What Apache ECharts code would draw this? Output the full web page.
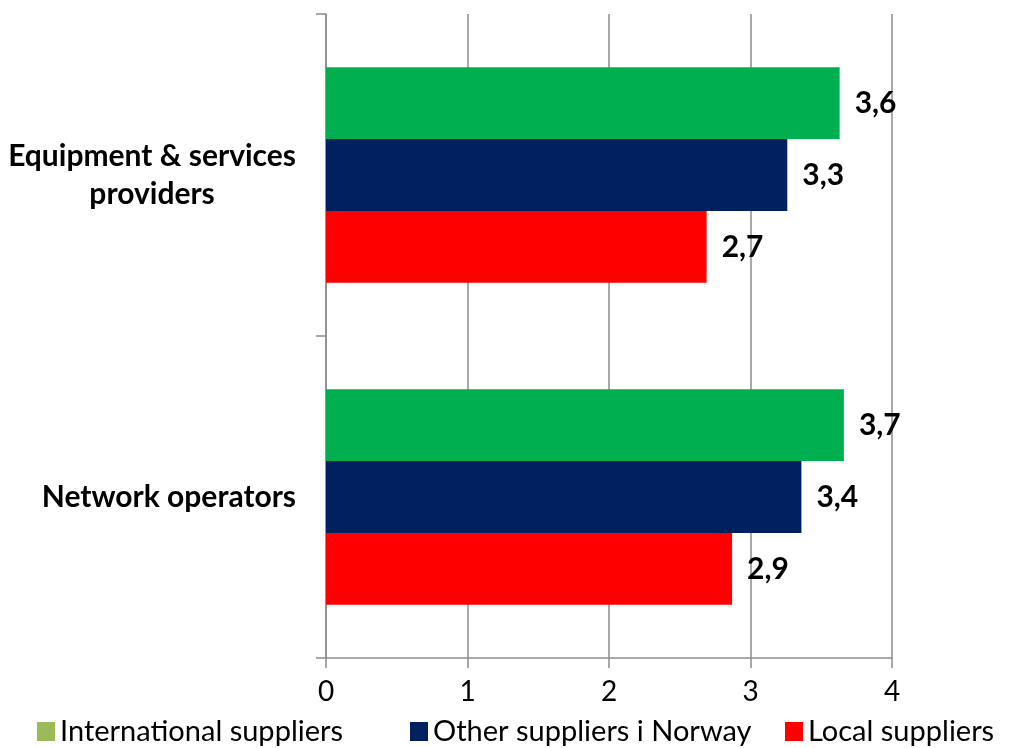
<!DOCTYPE html>
<html>
<head>
<meta charset="utf-8">
<script src="https://cdn.jsdelivr.net/npm/echarts@6/dist/echarts.min.js"></script>
<style>
  html, body { margin: 0; padding: 0; background: #fff; }
  #chart { width: 1025px; height: 748px; }
</style>
</head>
<body>
<div id="chart"></div>
<script>
// Categories (top to bottom) and series
const categories = ['Equipment & services\nproviders', 'Network operators'];
const seriesNames = ['International suppliers', 'Other suppliers i Norway', 'Local suppliers'];
const international = [3.63, 3.66];
const otherNorway = [3.26, 3.36];
const local = [2.69, 2.87];
const xTicks = [0, 1, 2, 3, 4];

const barColors = ['#00B050', '#002060', '#FF0000'];
const legendColors = ['#9BBB59', '#002060', '#FF0000'];
const FONT = 'Lato, "Open Sans", sans-serif';

const fmt = v => (Math.round(v * 10) / 10).toFixed(1).replace('.', ',');

function makeSeries(name, data, color) {
  return {
    name, type: 'bar', data,
    barGap: '0%', barCategoryGap: '33%',
    itemStyle: { color },
    label: {
      show: true, position: 'right', distance: 15,
      formatter: p => fmt(p.value),
      color: '#000', fontWeight: 'bold', fontSize: 30, fontFamily: FONT
    }
  };
}

const legendLefts = [32, 405, 780];
const legends = seriesNames.map((n, i) => ({
  data: [{ name: n, itemStyle: { color: legendColors[i] } }],
  left: legendLefts[i], top: 712,
  icon: 'rect', itemWidth: 18, itemHeight: 19, itemGap: 0,
  textStyle: { fontSize: 29, color: '#000', fontFamily: FONT, padding: [0, 0, 0, 0] },
  selectedMode: false
}));

const chart = echarts.init(document.getElementById('chart'));
chart.setOption({
  animation: false,
  backgroundColor: '#fff',
  legend: legends,
  grid: { left: 326, right: 133, top: 14, bottom: 90, containLabel: false },
  xAxis: {
    type: 'value', min: xTicks[0], max: xTicks[xTicks.length - 1], interval: 1,
    axisLine: { show: true, lineStyle: { color: '#8c8c8c', width: 1.5 } },
    axisTick: { show: true, length: 10, lineStyle: { color: '#8c8c8c', width: 1.5 } },
    splitLine: { show: true, lineStyle: { color: '#8c8c8c', width: 1.5 } },
    axisLabel: { fontSize: 28, color: '#000', fontFamily: FONT, margin: 20 }
  },
  yAxis: {
    type: 'category', data: categories, inverse: true,
    axisLine: { show: true, lineStyle: { color: '#8c8c8c', width: 1.5 } },
    axisTick: { show: true, length: 10, lineStyle: { color: '#8c8c8c', width: 1.5 } },
    axisLabel: {
      margin: 30, align: 'right',
      formatter: v => v.split('\n').map(s => '{c|' + s + '}').join('\n'),
      rich: {
        c: {
          fontSize: 30, fontWeight: 'bold', color: '#000', fontFamily: FONT,
          align: 'center', lineHeight: 38
        }
      }
    }
  },
  series: [
    makeSeries(seriesNames[0], international, barColors[0]),
    makeSeries(seriesNames[1], otherNorway, barColors[1]),
    makeSeries(seriesNames[2], local, barColors[2])
  ]
});
</script>
</body>
</html>
